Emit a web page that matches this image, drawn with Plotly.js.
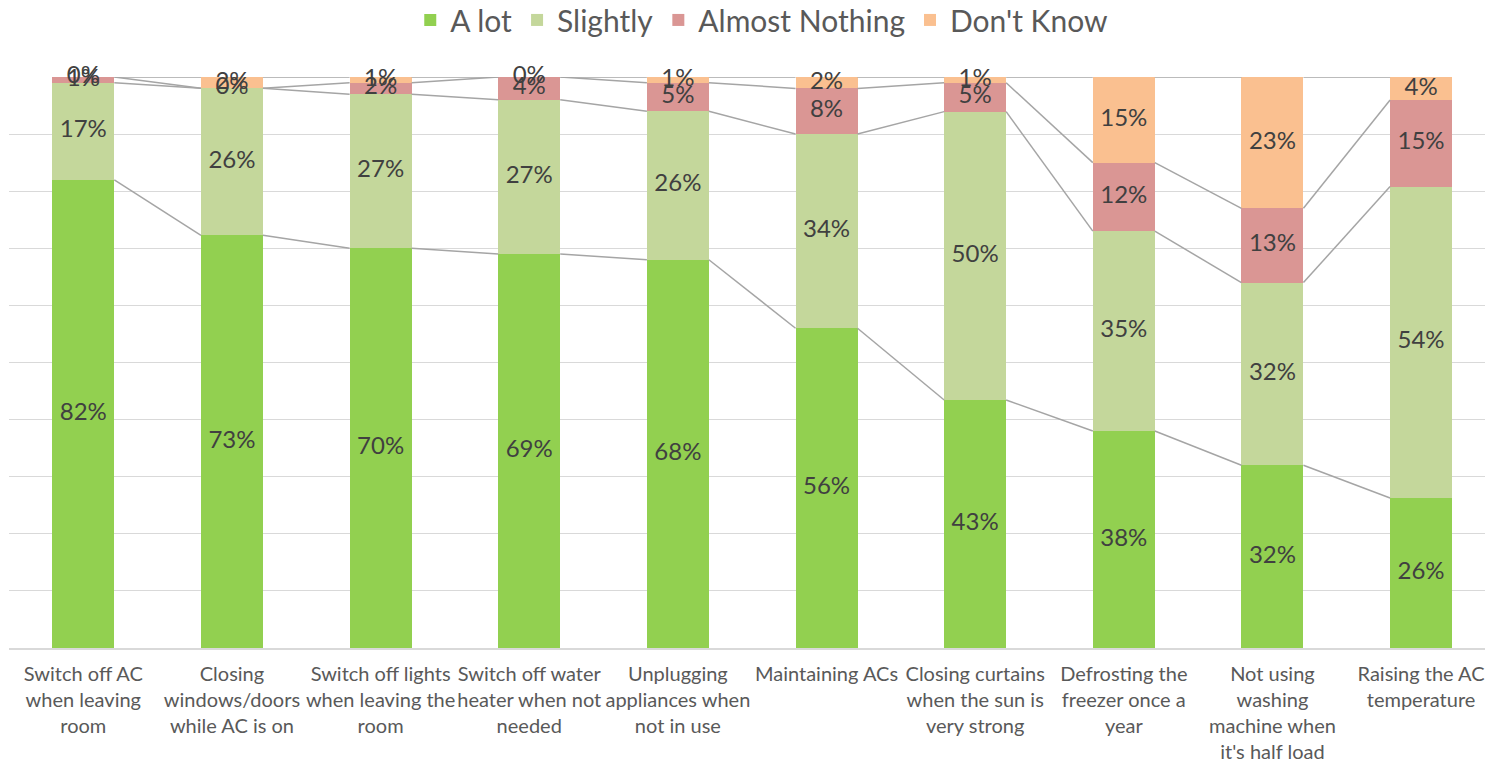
<!DOCTYPE html>
<html>
<head>
<meta charset="utf-8">
<script src="https://cdn.plot.ly/plotly-3.0.1.min.js"></script>
<style>html,body{margin:0;padding:0;background:#fff;}#chart{width:1485px;height:767px;}</style>
</head>
<body>
<div id="chart"></div>
<script>
const categories = [
  "Switch off AC<br>when leaving<br>room",
  "Closing<br>windows/doors<br>while AC is on",
  "Switch off lights<br>when leaving the<br>room",
  "Switch off water<br>heater when not<br>needed",
  "Unplugging<br>appliances when<br>not in use",
  "Maintaining ACs",
  "Closing curtains<br>when the sun is<br>very strong",
  "Defrosting the<br>freezer once a<br>year",
  "Not using<br>washing<br>machine when<br>it's half load",
  "Raising the AC<br>temperature"
];
const seriesNames = ["A lot", "Slightly", "Almost Nothing", "Don't Know"];
const aLot          = [82, 73, 70, 69, 68, 56, 43, 38, 32, 26];
const slightly      = [17, 26, 27, 27, 26, 34, 50, 35, 32, 54];
const almostNothing = [1, 0, 2, 4, 5, 8, 5, 12, 13, 15];
const dontKnow      = [0, 2, 1, 0, 1, 2, 1, 15, 23, 4];
const colors = ["#92D050", "#C4D79B", "#DA9694", "#FAC090"];

const series = [aLot, slightly, almostNothing, dontKnow];
const xs = categories.map((_, i) => i);
const barW = 0.417;
const FONT = "Lato, 'Open Sans', sans-serif";

const totals = xs.map(i => series.reduce((s, a) => s + a[i], 0));
const cumTop = series.map((_, k) => xs.map(i => {
  let s = 0;
  for (let j = 0; j <= k; j++) s += series[j][i];
  return s / totals[i] * 100;
}));
const cumBottom = series.map((_, k) => k === 0 ? xs.map(() => 0) : cumTop[k - 1]);

const traces = [];
// bars
series.forEach((vals, k) => {
  traces.push({
    type: "bar", name: seriesNames[k], x: xs, y: vals,
    width: barW,
    marker: {color: colors[k], line: {width: 0}},
    hoverinfo: "skip"
  });
});
// series lines (connect cumulative tops between adjacent bars)
for (let k = 0; k < series.length; k++) {
  const lx = [], ly = [];
  for (let i = 0; i < xs.length - 1; i++) {
    lx.push(xs[i] + barW / 2, xs[i + 1] - barW / 2, null);
    ly.push(cumTop[k][i], cumTop[k][i + 1], null);
  }
  traces.push({
    type: "scatter", mode: "lines", x: lx, y: ly,
    line: {color: "#A5A5A5", width: 1.5},
    showlegend: false, hoverinfo: "skip"
  });
}
// data labels (centred in each segment, including zero-height ones)
series.forEach((vals, k) => {
  traces.push({
    type: "scatter", mode: "text", x: xs,
    y: xs.map(i => (cumTop[k][i] + cumBottom[k][i]) / 2),
    text: vals.map(v => v + "%"),
    textposition: "middle center",
    textfont: {family: FONT, size: 24, color: "#404040"},
    showlegend: false, hoverinfo: "skip", cliponaxis: false
  });
});

const layout = {
  width: 1485, height: 767,
  margin: {l: 9, r: 0, t: 77, b: 119},
  barmode: "stack",
  barnorm: "percent",
  paper_bgcolor: "#fff", plot_bgcolor: "#fff",
  font: {family: FONT, color: "#595959"},
  showlegend: true,
  legend: {
    orientation: "h", x: 0.51, xanchor: "center", y: 0.974, yref: "container", yanchor: "middle",
    font: {size: 30, color: "#595959"}, traceorder: "normal",
    itemwidth: 30
  },
  xaxis: {
    range: [-0.5, 9.43], tickmode: "array", tickvals: xs, ticktext: categories,
    showgrid: false, zeroline: false, showline: true, linecolor: "#D9D9D9", linewidth: 1.5,
    ticks: "", tickangle: 0, tickfont: {size: 20, color: "#595959"}, ticklabelstandoff: 7, fixedrange: true
  },
  yaxis: {
    range: [0, 100], dtick: 10, showticklabels: false, showgrid: true,
    gridcolor: "#D9D9D9", gridwidth: 1, zeroline: false, ticks: "", fixedrange: true
  }
};
Plotly.newPlot("chart", traces, layout, {displayModeBar: false, staticPlot: true});
</script>
</body>
</html>
